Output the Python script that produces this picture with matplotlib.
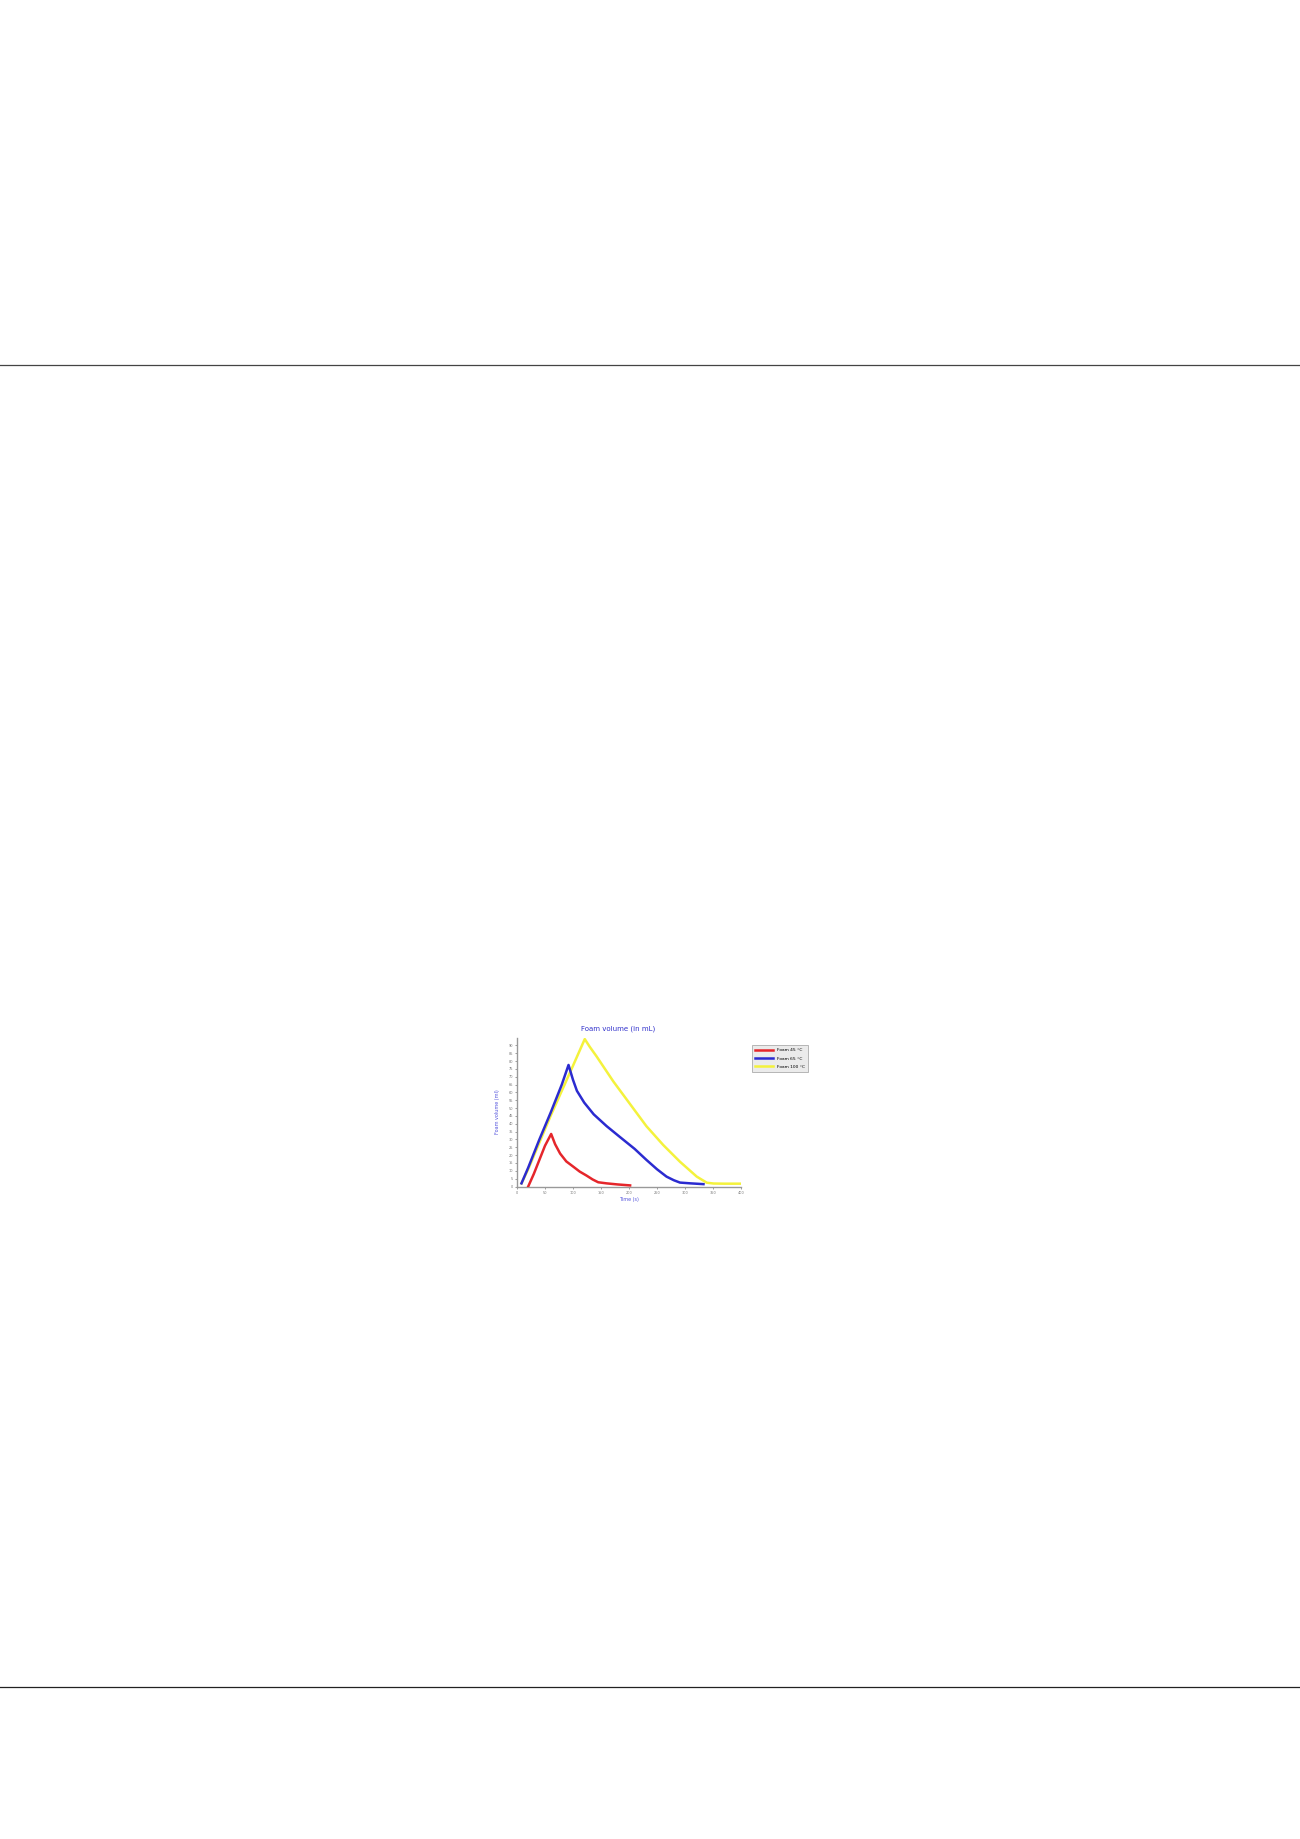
import numpy as np
import matplotlib
matplotlib.use("Agg")
import matplotlib.pyplot as plt

# Foam volume readings (time in s, volume in mL)
red_t = [20, 30, 40, 50, 61, 68, 77, 88, 101, 112, 124, 135, 145, 160, 180, 202]
red_v = [0, 8, 17, 26, 33.5, 27, 21, 16, 12.5, 9.5, 7, 4.5, 2.7, 2, 1.3, 0.7]

blue_t = [8, 20, 40, 60, 80, 92, 100, 107, 120, 137, 160, 184, 210, 231, 250, 267, 280, 291, 310, 333]
blue_v = [2, 12, 30, 47, 65, 77.5, 68, 61, 53.5, 46, 38.5, 31.5, 24, 17, 11, 6.3, 4, 2.5, 2, 1.5]

yellow_t = [8, 20, 40, 60, 80, 100, 121, 130, 142, 172, 202, 231, 261, 291, 321, 339, 351, 370, 398]
yellow_v = [2, 11, 28, 45, 61, 77, 94, 89, 83, 67, 52.5, 38.5, 26.5, 15.8, 6.3, 2.4, 1.9, 1.8, 1.8]

labels = ["Foam 45 °C", "Foam 65 °C", "Foam 100 °C"]
x_ticks = list(range(0, 401, 50))
y_ticks = list(range(0, 91, 5))

fig = plt.figure(figsize=(13, 18.39), dpi=100)

# page rules
fig.add_artist(plt.Line2D([0, 1], [1 - 364.5 / 1839] * 2, color="#444444", lw=0.9))
fig.add_artist(plt.Line2D([0, 1], [1 - 1687 / 1839] * 2, color="#222222", lw=0.9))

ax = fig.add_axes([517 / 1300, 652.5 / 1839, 224 / 1300, 149 / 1839])
ly, = ax.plot(yellow_t, yellow_v, color="#f4f23c", lw=1.8, label=labels[2], zorder=2)
lb, = ax.plot(blue_t, blue_v, color="#2b2bd0", lw=1.8, label=labels[1], zorder=3)
lr, = ax.plot(red_t, red_v, color="#e5262b", lw=1.8, label=labels[0], zorder=4)

ax.set_xlim(0, 400)
ax.set_ylim(0, 95)
ax.set_xticks(x_ticks)
ax.set_yticks(y_ticks)
ax.tick_params(labelsize=2.5, colors="#777777", length=1.5, width=0.5, pad=1.5)
for s in ["top", "right"]:
    ax.spines[s].set_visible(False)
for s in ["left", "bottom"]:
    ax.spines[s].set_color("#999999")
    ax.spines[s].set_linewidth(1.0)

ax.set_title("Foam volume (in mL)", color="#3333cc", fontsize=5, pad=5, x=0.45)
ax.set_xlabel("Time (s)", color="#5555dd", fontsize=3.5, labelpad=2)
ax.set_ylabel("Foam volume (ml)", color="#5555dd", fontsize=3.5, labelpad=6)

# legend: red, blue, yellow from top
leg = fig.legend([lr, lb, ly], labels,
                 loc="upper left", bbox_to_anchor=(750 / 1300, 1 - 1043 / 1839),
                 fontsize=3.2, frameon=True, fancybox=False, facecolor="#e6e6e6",
                 edgecolor="#999999", handlelength=4, borderpad=0.7, labelspacing=0.9)
leg.get_frame().set_linewidth(0.6)

fig.savefig("out.png", dpi=100)
